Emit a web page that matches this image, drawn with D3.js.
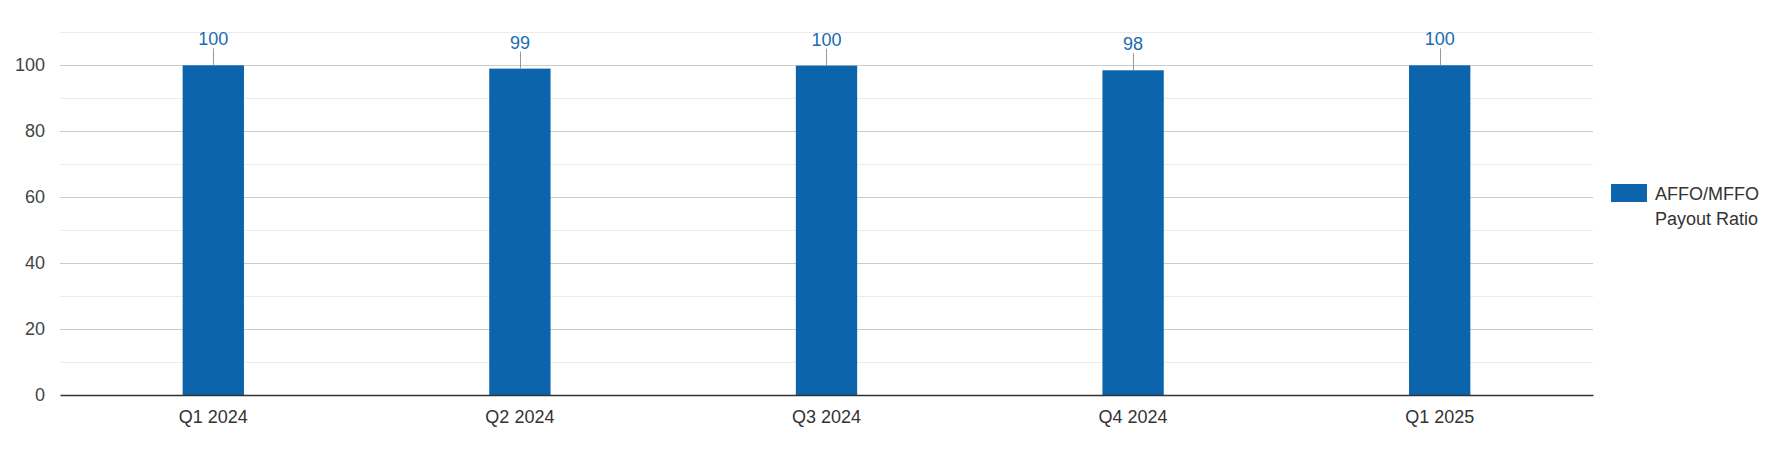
<!DOCTYPE html>
<html><head><meta charset="utf-8">
<script src="https://cdn.jsdelivr.net/npm/d3@7"></script>
<style>body{margin:0;background:#fff;font-family:"Liberation Sans",Arial,sans-serif;}</style>
</head><body><svg id="c" width="1765" height="450"></svg>
<script>
const categories = ["Q1 2024","Q2 2024","Q3 2024","Q4 2024","Q1 2025"];
const values = [99.9, 98.9, 99.8, 98.4, 99.9];
const valueLabels = ["100","99","100","98","100"];
const yTicks = [0,20,40,60,80,100];
const yMinorTicks = [10,30,50,70,90,110];
const seriesName = ["AFFO/MFFO","Payout Ratio"];

const svg = d3.select("#c");
const m = {left:60, right:1593, top:32, bottom:395};
const x = d3.scaleBand().domain(categories).range([m.left, m.right]).paddingInner(0.8).paddingOuter(0.4);
const y = d3.scaleLinear().domain([0,110]).range([m.bottom, m.top]);

const g = svg.append("g");
g.selectAll(".minor").data(yMinorTicks).join("line")
  .attr("x1", m.left).attr("x2", m.right)
  .attr("y1", d=>Math.round(y(d))+0.5).attr("y2", d=>Math.round(y(d))+0.5)
  .attr("stroke","#ebebeb").attr("stroke-width",1);
g.selectAll(".major").data(yTicks.filter(d=>d>0)).join("line")
  .attr("x1", m.left).attr("x2", m.right)
  .attr("y1", d=>Math.round(y(d))+0.5).attr("y2", d=>Math.round(y(d))+0.5)
  .attr("stroke","#cccccc").attr("stroke-width",1);

const yAxis = d3.axisLeft(y).tickValues(yTicks).tickSize(0).tickPadding(15);
const ya = svg.append("g").attr("transform",`translate(${m.left},0)`).call(yAxis);
ya.select(".domain").remove();
ya.selectAll("text").attr("font-size",18).attr("fill","#444").attr("font-family","Liberation Sans, Arial, sans-serif");

svg.selectAll(".bar").data(values).join("rect")
  .attr("x",(d,i)=>x(categories[i])).attr("width",x.bandwidth())
  .attr("y",d=>y(d)).attr("height",d=>y(0)-y(d))
  .attr("fill","#0b64ac");

svg.selectAll(".lead").data(values).join("line")
  .attr("x1",(d,i)=>Math.round(x(categories[i])+x.bandwidth()/2)+0.5)
  .attr("x2",(d,i)=>Math.round(x(categories[i])+x.bandwidth()/2)+0.5)
  .attr("y1",d=>y(d)-17).attr("y2",d=>y(d))
  .attr("stroke","#999").attr("stroke-width",1);

svg.selectAll(".vl").data(values).join("text")
  .attr("x",(d,i)=>x(categories[i])+x.bandwidth()/2)
  .attr("y",d=>y(d)-20)
  .attr("text-anchor","middle").attr("font-size",18).attr("fill","#1a6bb3")
  .text((d,i)=>valueLabels[i]);

const xAxis = d3.axisBottom(x).tickSize(0).tickPadding(15);
const xa = svg.append("g").attr("transform",`translate(0,${m.bottom})`).call(xAxis);
xa.select(".domain").attr("stroke","#333").attr("stroke-width",1.5);
xa.selectAll("text").attr("font-size",18).attr("fill","#333").attr("font-family","Liberation Sans, Arial, sans-serif");

const lg = svg.append("g");
lg.append("rect").attr("x",1611).attr("y",184).attr("width",36).attr("height",18).attr("fill","#0b64ac");
lg.selectAll("text").data(seriesName).join("text")
  .attr("x",1655).attr("y",(d,i)=>199.5+i*25)
  .attr("font-size",18).attr("fill","#333").text(d=>d);
</script></body></html>
